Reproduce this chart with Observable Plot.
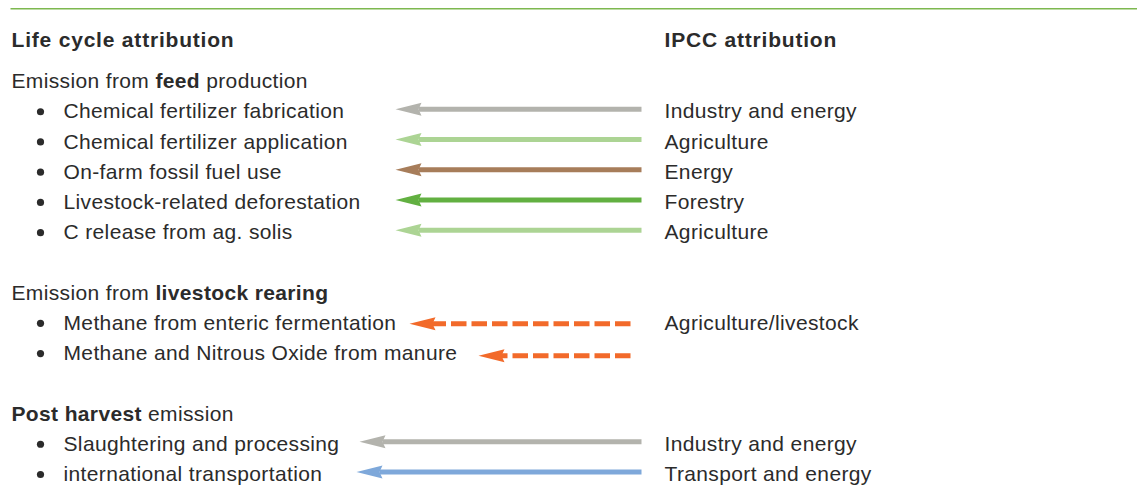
<!DOCTYPE html>
<html>
<head>
<meta charset="utf-8">
<script src="https://cdn.jsdelivr.net/npm/d3@7"></script>
<script src="https://cdn.jsdelivr.net/npm/@observablehq/plot@0.6"></script>
<style>
  html, body { margin: 0; padding: 0; background: #fff; }
  #chart svg { display: block; }
</style>
</head>
<body>
<div id="chart"></div>
<script>
// ---- data ----
const columnTitles = ["Life cycle attribution", "IPCC attribution"];
const headerPre  = ["Emission from ", "Emission from ", ""];
const headerBold = ["feed", "livestock rearing", "Post harvest"];
const headerPost = [" production", "", " emission"];
const headerRows = [0, 7, 11];

const items = [
  "Chemical fertilizer fabrication",
  "Chemical fertilizer application",
  "On-farm fossil fuel use",
  "Livestock-related deforestation",
  "C release from ag. solis",
  "Methane from enteric fermentation",
  "Methane and Nitrous Oxide from manure",
  "Slaughtering and processing",
  "international transportation"
];
const itemRows = [1, 2, 3, 4, 5, 8, 9, 12, 13];
const ipccLabels = [
  "Industry and energy", "Agriculture", "Energy", "Forestry", "Agriculture",
  "Agriculture/livestock", "", "Industry and energy", "Transport and energy"
];
const sectorKind = ["industry", "agriculture", "energy", "forestry", "agriculture",
  "livestock", "livestock", "industry", "transport"];
const arrowFrom = [641, 641, 641, 641, 641, 630, 630, 641, 641];
const arrowTo   = [395, 395, 395, 395, 395, 409, 478, 359, 356];
const arrowDashed = [false, false, false, false, false, true, true, false, false];

const sectorDomain = ["industry", "agriculture", "energy", "forestry", "livestock", "transport"];
const sectorColors = ["#b3b3ad", "#acd494", "#a77d5a", "#62b041", "#f26a2a", "#7ea8da"];

// ---- tables ----
const rows = items.map((label, i) => ({
  label, row: itemRows[i], ipcc: ipccLabels[i], kind: sectorKind[i],
  from: arrowFrom[i], to: arrowTo[i], dashed: arrowDashed[i]
}));
const headers = headerBold.map((b, i) => ({
  pre: headerPre[i], bold: b, post: headerPost[i], row: headerRows[i],
  full: headerPre[i] + b + headerPost[i]
}));
const titles = [{t: columnTitles[0], x: 11}, {t: columnTitles[1], x: 664}];

const arrowHead = {
  draw(ctx) {
    ctx.moveTo(0, 0);
    ctx.lineTo(26, -6.5);
    ctx.lineTo(23, 0);
    ctx.lineTo(26, 6.5);
    ctx.closePath();
  }
};
const arrowOffset = d => d.dashed ? (d.row === 9 ? 0.07 : 0.01) : -0.08;

const textColor = "#2b2b2b";
const font = "Liberation Sans, Arial, Helvetica, sans-serif";
const reg = {fill: textColor, fontSize: 21, textAnchor: "start"};

const chart = Plot.plot({
  width: 1137,
  height: 493,
  margin: 0,
  style: {fontFamily: font, fontSize: "21px", color: textColor, background: "#fff"},
  x: {domain: [0, 1137], range: [0, 1137], axis: null},
  y: {domain: [0, 13], range: [81, 474], axis: null},
  color: {domain: sectorDomain, range: sectorColors},
  marks: [
    Plot.ruleY([-2.405], {x1: 10.5, x2: 1137, stroke: "#7db84f", strokeWidth: 1.5}),
    Plot.text(titles, {x: "x", y: () => -1.38, text: "t", ...reg, fontWeight: "bold"}),
    Plot.text(headers, {x: 11, y: "row", text: "full", ...reg}),
    Plot.dot(rows, {x: 40, y: "row", r: 3.6, fill: textColor}),
    Plot.text(rows, {x: 63, y: "row", text: "label", ...reg}),
    Plot.text(rows, {x: 664, y: "row", text: "ipcc", ...reg}),
    Plot.link(rows.filter(d => !d.dashed), {x1: "from", x2: d => d.to + 23,
      y1: d => d.row + arrowOffset(d), y2: d => d.row + arrowOffset(d),
      stroke: "kind", strokeWidth: 5}),
    Plot.link(rows.filter(d => d.dashed), {x1: "from", x2: d => d.to + 20,
      y1: d => d.row + arrowOffset(d), y2: d => d.row + arrowOffset(d),
      stroke: "kind", strokeWidth: 5, strokeDasharray: "15.5,5"}),
    Plot.dot(rows, {x: "to", y: d => d.row + arrowOffset(d), symbol: arrowHead, r: 5,
      fill: "kind", stroke: "none"})
  ]
});

// Letter spacing to match the reference typeface widths
const svg = d3.select(chart);
svg.selectAll("text").attr("letter-spacing", "0.36px");

// Mixed-weight group headers and bold titles as real text with tspans
svg.selectAll("text").each(function() {
  const el = d3.select(this);
  const content = this.textContent;
  if (columnTitles.includes(content)) {
    el.attr("letter-spacing", "0.8px");
    return;
  }
  const h = headers.find(d => d.full === content);
  if (!h) return;
  el.text(null);
  if (h.pre) el.append("tspan").text(h.pre);
  el.append("tspan").attr("font-weight", "bold").text(h.bold);
  if (h.post) el.append("tspan").text(h.post);
});

document.getElementById("chart").appendChild(chart);
</script>
</body>
</html>
